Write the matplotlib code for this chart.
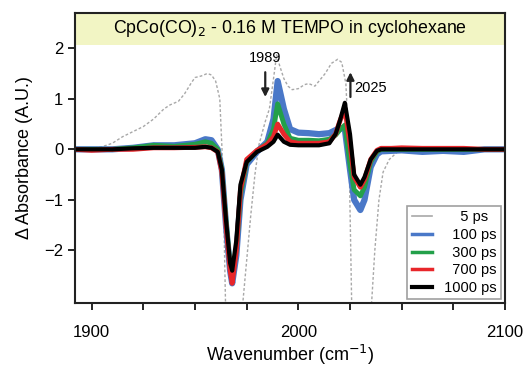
import numpy as np
import matplotlib
matplotlib.use("Agg")
import matplotlib.pyplot as plt

plt.rcParams['font.family'] = ['Liberation Sans', 'DejaVu Sans']

# ---- data ----
wn_5 = [1892, 1900, 1905, 1910, 1915, 1920, 1925, 1930, 1935, 1938, 1942, 1945, 1948, 1950,
        1953, 1956, 1958, 1960, 1962, 1963.5, 1965, 1972, 1973, 1975, 1977, 1979, 1981,
        1984, 1986, 1988, 1989.5, 1991, 1993, 1995, 1997, 2000, 2003, 2005, 2008, 2010,
        2013, 2016, 2019, 2021, 2023, 2024.5, 2026, 2034, 2035.5, 2037, 2039, 2041, 2044,
        2048, 2055, 2100]
ab_5 = [0.0, 0.02, 0.05, 0.12, 0.25, 0.35, 0.45, 0.6, 0.8, 0.88, 0.95, 1.1, 1.3, 1.42,
        1.45, 1.5, 1.47, 1.35, 1.0, -0.4, -3.5, -3.5, -3.1, -2.2, -1.3, -0.5, 0.1,
        0.55, 0.8, 1.4, 1.87, 1.65, 1.4, 1.25, 1.18, 1.2, 1.28, 1.3, 1.25, 1.35,
        1.5, 1.7, 1.78, 1.72, 1.3, 0.0, -3.5, -3.5, -3.0, -2.0, -1.0, -0.45, -0.2,
        -0.05, 0.0, 0.0]

wn = [1892, 1900, 1910, 1920, 1930, 1940, 1950, 1955, 1958, 1961, 1963, 1965, 1967, 1968,
      1970, 1972, 1975, 1980, 1985, 1988, 1990, 1993, 1996, 2000, 2005, 2010, 2015,
      2018, 2020, 2022.5, 2025, 2027, 2030, 2032, 2035, 2038, 2040, 2045, 2050, 2060,
      2070, 2080, 2090, 2100]
ab_100 = [0.0, 0.0, 0.0, 0.03, 0.08, 0.08, 0.12, 0.2, 0.18, 0.0, -0.4, -1.5, -2.4, -2.65,
          -2.1, -1.0, -0.3, -0.05, 0.15, 0.6, 1.35, 0.8, 0.4, 0.33, 0.32, 0.3, 0.32,
          0.38, 0.42, 0.4, -0.4, -1.0, -1.2, -1.0, -0.35, -0.1, -0.04, -0.03, -0.02, -0.05,
          -0.03, -0.05, 0.0, 0.0]
ab_300 = [0.0, 0.0, 0.0, 0.03, 0.08, 0.06, 0.1, 0.15, 0.12, 0.0, -0.4, -1.4, -2.3, -2.55,
          -2.0, -0.9, -0.25, -0.03, 0.12, 0.4, 0.9, 0.5, 0.22, 0.18, 0.18, 0.17, 0.2,
          0.28, 0.38, 0.48, -0.3, -0.8, -0.92, -0.75, -0.25, -0.05, 0.0, 0.0, 0.0, 0.0,
          0.0, 0.0, 0.0, 0.0]
ab_700 = [0.0, -0.02, 0.0, 0.0, 0.03, 0.03, 0.04, 0.05, 0.03, -0.05, -0.45, -1.5, -2.4, -2.65,
          -2.0, -0.8, -0.2, -0.02, 0.1, 0.25, 0.5, 0.3, 0.15, 0.12, 0.12, 0.12, 0.15,
          0.3, 0.55, 0.8, 0.1, -0.55, -0.75, -0.6, -0.2, -0.02, 0.02, 0.02, 0.03, 0.02,
          0.02, 0.02, 0.0, 0.0]
ab_1000 = [0.0, 0.0, 0.0, 0.02, 0.03, 0.03, 0.03, 0.05, 0.03, -0.05, -0.4, -1.4, -2.25, -2.4,
           -1.8, -0.7, -0.25, -0.05, 0.05, 0.15, 0.29, 0.15, 0.09, 0.08, 0.08, 0.08, 0.12,
           0.3, 0.55, 0.92, 0.3, -0.5, -0.7, -0.55, -0.2, -0.03, 0.0, 0.0, 0.0, 0.0,
           0.0, 0.0, 0.0, 0.0]

labels = ['5 ps', '100 ps', '300 ps', '700 ps', '1000 ps']
colors = ['#a8a8a8', '#4a78c8', '#23a04a', '#e8262a', '#000000']
title = 'CpCo(CO)$_2$ - 0.16 M TEMPO in cyclohexane'

fig = plt.figure(figsize=(5.25, 3.66), dpi=100)
ax = fig.add_axes([0.143, 0.172, 0.819, 0.793])

ax.plot(wn_5, ab_5, color=colors[0], lw=1.0, ls=(0, (2, 1.5)), label=labels[0])
ax.plot(wn, ab_100, color=colors[1], lw=4.5, label=labels[1], solid_joinstyle='round')
ax.plot(wn, ab_300, color=colors[2], lw=3.5, label=labels[2], solid_joinstyle='round')
ax.plot(wn, ab_700, color=colors[3], lw=3.5, label=labels[3], solid_joinstyle='round')
ax.plot(wn, ab_1000, color=colors[4], lw=3.0, label=labels[4], solid_joinstyle='round')

ax.set_xlim(1892, 2100)
ax.set_ylim(-3.04, 2.70)
ax.set_xticks([1900, 2000, 2100])
ax.set_xticks(np.arange(1900, 2101, 25), minor=True)
ax.set_yticks([-2, -1, 0, 1, 2])
ax.tick_params(axis='both', which='major', length=5, width=1.2, labelsize=12, direction='out')
ax.tick_params(axis='x', which='minor', length=5, width=1.2)
ax.tick_params(axis='x', which='major', pad=11)
for s in ax.spines.values():
    s.set_linewidth(1.5)
    s.set_color('#222222')

ax.axhspan(2.07, 2.70, color='#f2f5c4', zorder=0, lw=0)
ax.text(1996, 2.38, title, ha='center', va='center', fontsize=12.8)

ax.annotate('', xy=(1984, 0.98), xytext=(1984, 1.58),
            arrowprops=dict(arrowstyle='-|>', color='#222222', lw=1.6, mutation_scale=11))
ax.text(1984, 1.80, '1989', ha='center', va='center', fontsize=10.5)
ax.annotate('', xy=(2025.2, 1.58), xytext=(2025.2, 0.98),
            arrowprops=dict(arrowstyle='-|>', color='#222222', lw=1.6, mutation_scale=11))
ax.text(2027, 1.22, '2025', ha='left', va='center', fontsize=10.5)

ax.set_xlabel('Wavenumber (cm$^{-1}$)', fontsize=13, labelpad=2)
ax.set_ylabel('Δ Absorbance (A.U.)', fontsize=13, labelpad=8)

fs = '\u2007'
leg_labels = [fs * 3 + '5 ps', fs * 2 + '100 ps', fs * 2 + '300 ps', fs * 2 + '700 ps', fs + '1000 ps']
handles = ax.get_lines()[:5]
leg = ax.legend(handles, leg_labels, loc='lower right', fontsize=10.5, frameon=True,
                fancybox=False, edgecolor='#888888', handlelength=1.4, handletextpad=0.3,
                labelspacing=0.25, borderpad=0.3, borderaxespad=0.25)
leg.get_frame().set_linewidth(1.2)
widths = [1.2, 2.5, 2.5, 2.5, 3.0]
for h, w in zip(leg.legend_handles, widths):
    h.set_linestyle('-')
    h.set_linewidth(w)

fig.savefig('out.png', dpi=100)
